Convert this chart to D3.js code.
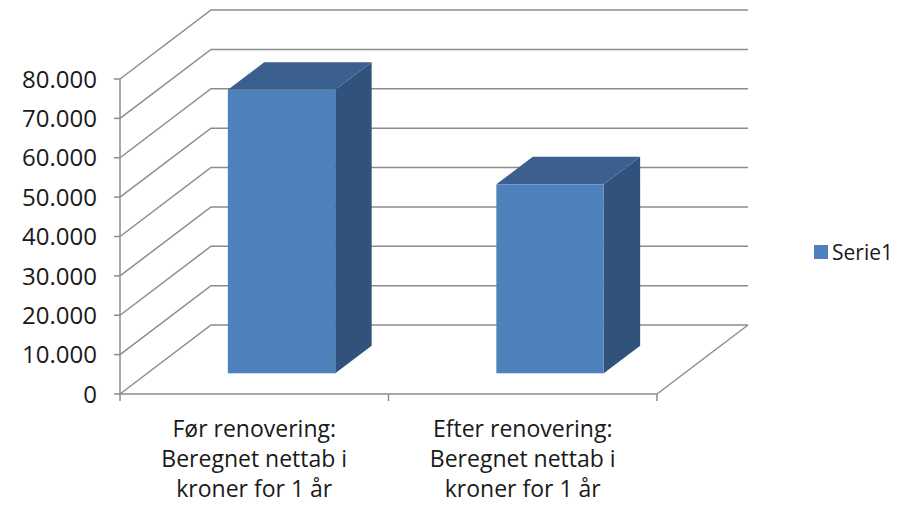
<!DOCTYPE html>
<html>
<head>
<meta charset="utf-8">
<script src="https://cdn.jsdelivr.net/npm/d3@7"></script>
<style>
  body { margin: 0; background: #fff; }
  text { font-family: "Open Sans", sans-serif; fill: #1a1a1a; }
</style>
</head>
<body>
<svg id="chart" width="898" height="506"></svg>
<script>
// data
let categories = ['Før renovering', 'Efter renovering'];
let categoryLines = [
    ['Før renovering:', 'Beregnet nettab i', 'kroner for 1 år'],
    ['Efter renovering:', 'Beregnet nettab i', 'kroner for 1 år']
];
let values = [72000, 48000];
let yTicks = [0, 10000, 20000, 30000, 40000, 50000, 60000, 70000, 80000];
let seriesName = 'Serie1';

let width = 898;
let height = 506;

// oblique depth of the 3d box
let depthX = 91;
let depthY = -69;
let barFront = 0.3;
let barBack = 0.7;

let gridColor = '#8c8c8c';
let colFront = '#4f81bd';
let colTop = '#3b5f8e';
let colSide = '#31527b';

let nb = d3.formatLocale({decimal: ',', thousands: '.', grouping: [3], currency: ['', ' kr']});
let fmt = nb.format(',');

let svg = d3.select('#chart');

let x = d3.scaleBand()
    .domain(categories)
    .range([120, 657])
    .paddingInner(0.6)
    .paddingOuter(0.3);

let y = d3.scaleLinear()
    .domain([0, 80000])
    .range([394, 79]);

let x0 = 120, x1 = 657;
let step = x.step();

let walls = svg.append('g')
    .attr('fill', 'none')
    .attr('stroke', gridColor)
    .attr('stroke-width', 1.5);

// back wall gridlines + side wall diagonals
yTicks.forEach(v => {
    walls.append('path')
        .attr('d', `M${x0},${y(v)} L${x0 + depthX},${y(v) + depthY} L${x1 + depthX},${y(v) + depthY}`);
});

// floor right edge
walls.append('path')
    .attr('d', `M${x1},${y(0)} L${x1 + depthX},${y(0) + depthY}`);

// front axes
walls.append('path')
    .attr('d', `M${x0},${y(80000)} L${x0},${y(0)} L${x1},${y(0)}`);

yTicks.forEach(v => {
    walls.append('line')
        .attr('x1', x0 - 6).attr('x2', x0)
        .attr('y1', y(v)).attr('y2', y(v));
});

[0, 1, 2].forEach(i => {
    let tx = x0 + i * step;
    walls.append('line')
        .attr('x1', tx).attr('x2', tx)
        .attr('y1', y(0)).attr('y2', y(0) + 7);
});

// y tick labels
svg.append('g')
    .selectAll('text')
    .data(yTicks)
    .join('text')
    .attr('x', 97)
    .attr('y', d => y(d))
    .attr('dy', '0.36em')
    .attr('text-anchor', 'end')
    .attr('font-size', 24)
    .text(d => fmt(d));

// bars
let bars = svg.append('g')
    .selectAll('g')
    .data(values)
    .join('g');

let fx = barFront * depthX, fy = barFront * depthY;
let bx = barBack * depthX, by = barBack * depthY;

bars.append('path')
    .attr('fill', colSide)
    .attr('d', (d, i) => {
        let r = x(categories[i]) + x.bandwidth();
        return `M${r + fx},${y(0) + fy} L${r + bx},${y(0) + by} L${r + bx},${y(d) + by} L${r + fx},${y(d) + fy}Z`;
    });

bars.append('path')
    .attr('fill', colTop)
    .attr('d', (d, i) => {
        let l = x(categories[i]);
        let r = l + x.bandwidth();
        return `M${l + fx},${y(d) + fy} L${l + bx},${y(d) + by} L${r + bx},${y(d) + by} L${r + fx},${y(d) + fy}Z`;
    });

bars.append('rect')
    .attr('fill', colFront)
    .attr('x', (d, i) => x(categories[i]) + fx)
    .attr('y', d => y(d) + fy)
    .attr('width', x.bandwidth())
    .attr('height', d => y(0) - y(d));

// category labels
let labels = svg.append('g')
    .selectAll('text')
    .data(categories)
    .join('text')
    .attr('text-anchor', 'middle')
    .attr('font-size', 23);

labels.selectAll('tspan')
    .data((d, i) => categoryLines[i].map(s => ({s: s, c: d})))
    .join('tspan')
    .attr('x', d => x(d.c) + x.bandwidth() / 2)
    .attr('y', (d, j) => 437 + j * 30)
    .text(d => d.s);

// legend
let legend = svg.append('g');
legend.append('rect')
    .attr('x', 814).attr('y', 245)
    .attr('width', 14).attr('height', 14)
    .attr('fill', colFront);
legend.append('text')
    .attr('x', 832).attr('y', 252)
    .attr('dy', '0.36em')
    .attr('font-size', 21)
    .text(seriesName);
</script>
</body>
</html>
